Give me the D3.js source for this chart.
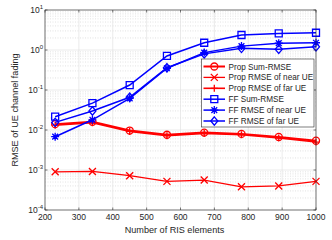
<!DOCTYPE html>
<html lang="en">
<head>
<meta charset="utf-8">
<title>RMSE vs RIS elements</title>
<script src="https://cdn.jsdelivr.net/npm/d3@7"></script>
<style>
  body { margin: 0; background: #ffffff; }
  text { font-family: "Liberation Sans", Arial, sans-serif; fill: #262626; }
</style>
</head>
<body>
<script>
// data
var risElements = [230, 340, 450, 560, 670, 780, 890, 1000];
var propSum  = [0.014, 0.016, 0.0097, 0.0076, 0.0086, 0.0080, 0.0067, 0.0054];
var propNear = [0.00090, 0.00092, 0.00072, 0.00052, 0.00056, 0.00038, 0.00040, 0.00052];
var propFar  = [0.0132, 0.0152, 0.0092, 0.0072, 0.0082, 0.0076, 0.0063, 0.0050];
var ffSum    = [0.0215, 0.047, 0.133, 0.71, 1.52, 2.37, 2.6, 2.7];
var ffNear   = [0.0068, 0.018, 0.062, 0.35, 0.86, 1.25, 1.48, 1.52];
var ffFar    = [0.0155, 0.030, 0.066, 0.36, 0.80, 1.10, 1.04, 1.20];
var xTicks = [200, 300, 400, 500, 600, 700, 800, 900, 1000];
var yExps = [1, 0, -1, -2, -3, -4];

var series = [
  {name: "Prop Sum-RMSE",        vals: propSum,  color: "#ff0000", marker: "circle",  lw: 2},
  {name: "Prop RMSE of near UE", vals: propNear, color: "#ff0000", marker: "x",       lw: 1.3},
  {name: "Prop RMSE of far UE",  vals: propFar,  color: "#ff0000", marker: "plus",    lw: 1.6},
  {name: "FF Sum-RMSE",          vals: ffSum,    color: "#0000ff", marker: "square",  lw: 1.5},
  {name: "FF RMSE of near UE",   vals: ffNear,   color: "#0000ff", marker: "star",    lw: 1.5},
  {name: "FF RMSE of far UE",    vals: ffFar,    color: "#0000ff", marker: "diamond", lw: 1.5}
];

var W = 332, H = 240;
var padL = 45, padR = 316, padT = 10, padB = 210;

var svg = d3.select("body").append("svg")
  .attr("width", W).attr("height", H);

var x = d3.scaleLinear().domain([200, 1000]).range([padL, padR]);
var y = d3.scaleLog().domain([1e-4, 10]).range([padB, padT]);

// grid
var grid = svg.append("g");
for (var e = -4; e < 1; e++) {
  for (var m = 2; m < 10; m++) {
    grid.append("line")
      .attr("x1", padL).attr("x2", padR)
      .attr("y1", y(m * Math.pow(10, e))).attr("y2", y(m * Math.pow(10, e)))
      .attr("stroke", "#d0d0d0").attr("stroke-width", 0.6)
      .attr("stroke-dasharray", "1,1.5");
  }
}
yExps.forEach(function(p) {
  grid.append("line")
    .attr("x1", padL).attr("x2", padR)
    .attr("y1", y(Math.pow(10, p))).attr("y2", y(Math.pow(10, p)))
    .attr("stroke", "#e2e2e2").attr("stroke-width", 0.7);
});
xTicks.forEach(function(t) {
  grid.append("line")
    .attr("x1", x(t)).attr("x2", x(t))
    .attr("y1", padT).attr("y2", padB)
    .attr("stroke", "#e2e2e2").attr("stroke-width", 0.7);
});

// markers
function markerPath(type, s) {
  var h = s / 2;
  if (type === "x") return "M" + (-h) + "," + (-h) + "L" + h + "," + h + "M" + (-h) + "," + h + "L" + h + "," + (-h);
  if (type === "plus") return "M" + (-h) + ",0L" + h + ",0M0," + (-h) + "L0," + h;
  if (type === "star") {
    var d = h * 0.72;
    return "M" + (-h) + ",0L" + h + ",0M0," + (-h) + "L0," + h +
      "M" + (-d) + "," + (-d) + "L" + d + "," + d + "M" + (-d) + "," + d + "L" + d + "," + (-d);
  }
  if (type === "square") return "M" + (-h) + "," + (-h) + "H" + h + "V" + h + "H" + (-h) + "Z";
  if (type === "diamond") return "M0," + (-h * 1.2) + "L" + h + ",0L0," + (h * 1.2) + "L" + (-h) + ",0Z";
  return d3.symbol().type(d3.symbolCircle).size(Math.PI * h * h)();
}

var line = d3.line()
  .x(function(d) { return x(d[0]); })
  .y(function(d) { return y(d[1]); });

var plot = svg.append("g");
series.forEach(function(s) {
  var pts = risElements.map(function(r, i) { return [r, s.vals[i]]; });
  plot.append("path")
    .attr("d", line(pts))
    .attr("fill", "none")
    .attr("stroke", s.color)
    .attr("stroke-width", s.lw);
  plot.selectAll(null).data(pts).enter().append("path")
    .attr("transform", function(d) { return "translate(" + x(d[0]) + "," + y(d[1]) + ")"; })
    .attr("d", markerPath(s.marker, s.marker === "star" ? 8 : 7))
    .attr("fill", "none")
    .attr("stroke", s.color)
    .attr("stroke-width", 1.3);
});

// frame
svg.append("rect")
  .attr("x", padL).attr("y", padT)
  .attr("width", padR - padL).attr("height", padB - padT)
  .attr("fill", "none").attr("stroke", "#262626").attr("stroke-width", 0.6);

// ticks
var ticks = svg.append("g").attr("stroke", "#262626").attr("stroke-width", 0.6);
xTicks.forEach(function(t) {
  ticks.append("line").attr("x1", x(t)).attr("x2", x(t)).attr("y1", padB).attr("y2", padB - 2.5);
  ticks.append("line").attr("x1", x(t)).attr("x2", x(t)).attr("y1", padT).attr("y2", padT + 2.5);
});
yExps.forEach(function(p) {
  ticks.append("line").attr("x1", padL).attr("x2", padL + 2.5).attr("y1", y(Math.pow(10, p))).attr("y2", y(Math.pow(10, p)));
  ticks.append("line").attr("x1", padR).attr("x2", padR - 2.5).attr("y1", y(Math.pow(10, p))).attr("y2", y(Math.pow(10, p)));
});

// tick labels
svg.selectAll(".xlab").data(xTicks).enter().append("text")
  .attr("x", function(d) { return x(d); })
  .attr("y", padB + 10)
  .attr("text-anchor", "middle")
  .attr("font-size", 8.5)
  .text(function(d) { return d; });

yExps.forEach(function(p) {
  var t = svg.append("text")
    .attr("x", padL - 2).attr("y", y(Math.pow(10, p)) + 3)
    .attr("text-anchor", "end")
    .attr("font-size", 8.5);
  t.append("tspan").text("10");
  t.append("tspan").attr("dy", -4).attr("font-size", 6).text(p);
});

// axis titles
svg.append("text")
  .attr("x", (padL + padR) / 2 - 6).attr("y", padB + 22.5)
  .attr("text-anchor", "middle").attr("font-size", 9.1)
  .text("Number of RIS elements");
svg.append("text")
  .attr("transform", "translate(17.5," + ((padT + padB) / 2) + ") rotate(-90)")
  .attr("text-anchor", "middle").attr("font-size", 9.1)
  .text("RMSE of UE channel fading");

// legend
var lg = svg.append("g").attr("transform", "translate(201.5,59)");
lg.append("rect")
  .attr("width", 112.5).attr("height", 68)
  .attr("fill", "#ffffff").attr("stroke", "#262626").attr("stroke-width", 0.6);
series.forEach(function(s, i) {
  var ly = 7.5 + i * 10.9;
  lg.append("line")
    .attr("x1", 2).attr("x2", 23.5).attr("y1", ly).attr("y2", ly)
    .attr("stroke", s.color).attr("stroke-width", s.lw);
  lg.append("path")
    .attr("transform", "translate(12.8," + ly + ")")
    .attr("d", markerPath(s.marker, s.marker === "star" ? 8 : 7))
    .attr("fill", "none").attr("stroke", s.color).attr("stroke-width", 1.3);
  lg.append("text")
    .attr("x", 27).attr("y", ly + 3)
    .attr("font-size", 8.2)
    .text(s.name);
});
</script>
</body>
</html>
